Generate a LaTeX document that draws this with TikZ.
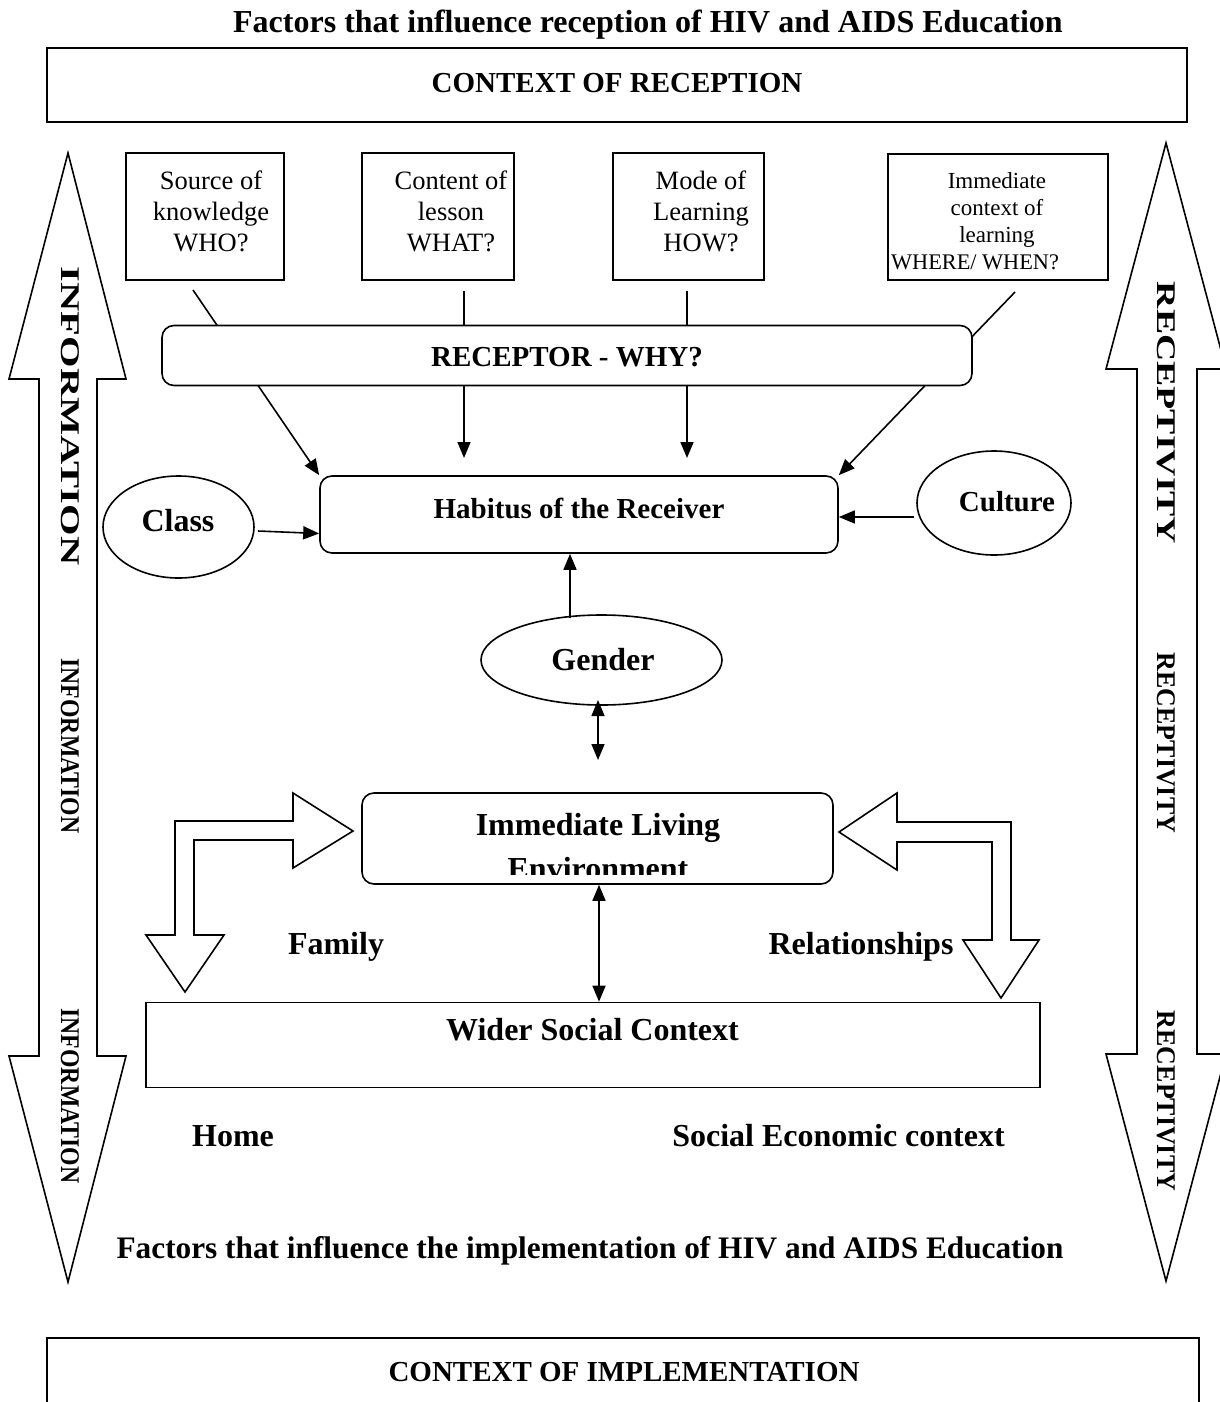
\documentclass[tikz,border=0pt]{standalone}
\usepackage{fontspec}
\setmainfont{Liberation Serif}
\usetikzlibrary{arrows.meta,calc,shapes.geometric}

\begin{document}
\begin{tikzpicture}[x=1pt,y=-1pt,line width=1.6pt,
  box/.style={draw,rectangle,inner sep=0pt},
  rbox/.style={draw,rectangle,rounded corners=12pt,fill=white,inner sep=0pt},
  oval/.style={draw,ellipse,inner sep=0pt},
  big/.style={font=\fontsize{29}{34}\selectfont\bfseries,inner sep=0pt,anchor=base},
  bigger/.style={font=\fontsize{32}{36}\selectfont\bfseries,inner sep=0pt,anchor=base},
  small/.style={font=\fontsize{26.5}{31}\selectfont,align=center,inner sep=0pt},
  side/.style={font=\fontsize{27}{30}\selectfont\bfseries,rotate=-90,inner sep=0pt},
  tip/.style={-{Triangle[length=16pt,width=13pt]}},
  tips/.style={{Triangle[length=16pt,width=13pt]}-{Triangle[length=16pt,width=13pt]}},
  hollow/.style={draw,fill=white,line join=miter},
]
\useasboundingbox (0,0) rectangle (1220,1402);

% outer two-headed block arrows
\path[hollow] (68,153) -- (126,379) -- (97,379) -- (97,1056) -- (126,1056)
  -- (68,1282) -- (9,1056) -- (39,1056) -- (39,379) -- (9,379) -- cycle;
\path[hollow] (1166,143) -- (1226,369) -- (1197,369) -- (1197,1054) -- (1226,1054)
  -- (1166,1281) -- (1106,1054) -- (1137,1054) -- (1137,369) -- (1106,369) -- cycle;

\node[side] (inf1) at (70,416) {\scalebox{1.5}[1]{INFORMATION}};
\node[side] (inf2) at (70,746) {\scalebox{0.88}[1]{INFORMATION}};
\node[side] (inf3) at (70,1096) {\scalebox{0.88}[1]{INFORMATION}};
\node[side] (rec1) at (1166,413) {\scalebox{1.4}[1]{RECEPTIVITY}};
\node[side] (rec2) at (1166,743) {\scalebox{0.96}[1]{RECEPTIVITY}};
\node[side] (rec3) at (1166,1101) {\scalebox{0.96}[1]{RECEPTIVITY}};

% titles and context boxes
\node[bigger] (title1) at (648,33) {Factors that influence reception of HIV and AIDS Education};
\node[box,minimum width=1140,minimum height=74] (ctxrec) at (617,85) {};
\node[big] (ctxrect) at (617,93) {CONTEXT OF RECEPTION};

% four source boxes
\node[box,minimum width=158,minimum height=127] (s1) at (205,216.5) {};
\node[small] (s1t) at (211,211) {Source of\\knowledge\\WHO?};
\node[box,minimum width=152,minimum height=127] (s2) at (438,216.5) {};
\node[small] (s2t) at (451,211) {Content of\\lesson\\WHAT?};
\node[box,minimum width=151,minimum height=127] (s3) at (688.5,216.5) {};
\node[small] (s3t) at (701,211) {Mode of\\Learning\\HOW?};
\node[box,minimum width=220,minimum height=126] (s4) at (998,217) {};
\node[small,font=\fontsize{23}{27}\selectfont] (s4t) at (997,210) {Immediate\\context of\\learning};
\node[small,font=\fontsize{22.3}{24}\selectfont] (s4u) at (975,262) {WHERE/ WHEN?};

% habitus box
\node[rbox,minimum width=518,minimum height=77] (hab) at (579,514.5) {};
\node[big] (habt) at (579,518) {Habitus of the Receiver};

% lines from the sources through the receptor to the habitus
\coordinate (a1) at (193,290);
\coordinate (a2) at (464,291);
\coordinate (a3) at (687,291);
\coordinate (a4) at (1015,292);
\coordinate (b2) at (464,458);
\coordinate (b3) at (687,458);
\draw[tip] (a1) -- (hab.north west);
\draw[tip] (a2) -- (b2);
\draw[tip] (a3) -- (b3);
\draw[tip] (a4) -- (hab.north east);

\node[rbox,minimum width=810,minimum height=60] (recp) at (567,355.5) {};
\node[big] (recpt) at (567,366) {RECEPTOR - WHY?};

% class, culture, gender
\node[oval,minimum width=151,minimum height=102] (class) at (178.5,527) {};
\node[bigger] (classt) at (178,531) {Class};
\node[oval,minimum width=154,minimum height=104] (cult) at (994,503) {};
\node[big] (cultt) at (1007,511) {Culture};
\node[oval,minimum width=241,minimum height=90] (gend) at (601.5,660) {};
\node[bigger] (gendt) at (603,670.5) {Gender};

\draw[tip] ($(class.east)+(3,4)$) -- ($(hab.west)+(0,19)$);
\draw[tip] ($(cult.west)+(-2,14)$) -- ($(hab.east)+(0,2.5)$);
\coordinate (g1) at (570,618);
\draw[tip] (g1) -- (g1 |- hab.south);
\coordinate (g2) at (598,700);
\coordinate (g3) at (598,760);
\draw[tips] (g2) -- (g3);

% immediate living environment (second line cut by the frame)
\begin{scope}
  \clip (362,793) rectangle (833,874);
  \node[bigger] (ile1) at (598,835) {Immediate Living};
  \node[bigger] (ile2) at (598,879) {Environment};
\end{scope}
\node[draw,rectangle,rounded corners=12pt,inner sep=0pt,minimum width=471,minimum height=91] (ile) at (597.5,838.5) {};

% wider social context
\node[box,minimum width=894,minimum height=85] (wsc) at (593,1045) {};
\node[bigger] (wsct) at (592.5,1040.5) {Wider Social Context};
\draw[tips] (ile.south -| 599,0) -- (wsc.north -| 599,0);

% bent hollow arrows
\path[hollow] (353,831) -- (293,793) -- (293,821) -- (175,821) -- (175,935) -- (146,935)
  -- (185,992) -- (224,935) -- (194,935) -- (194,840) -- (293,840) -- (293,868) -- cycle;
\path[hollow] (839,832) -- (897,793) -- (897,822) -- (1011,822) -- (1011,940) -- (1039,940)
  -- (1001,998) -- (963,940) -- (992,940) -- (992,842) -- (897,842) -- (897,870) -- cycle;

\node[bigger] (fam) at (336,954.5) {Family};
\node[bigger] (rel) at (861,954.5) {Relationships};
\node[bigger] (home) at (233,1146.5) {Home};
\node[bigger] (sec) at (838.5,1146.5) {Social Economic context};

% implementation
\node[big,font=\fontsize{31.3}{34}\selectfont\bfseries] (title2) at (590,1258) {Factors that influence the implementation of HIV and AIDS Education};
\draw (47,1420) -- (47,1338) -- (1199,1338) -- (1199,1420);
\node[big] (ctximp) at (624,1381) {CONTEXT OF IMPLEMENTATION};
\end{tikzpicture}
\end{document}
